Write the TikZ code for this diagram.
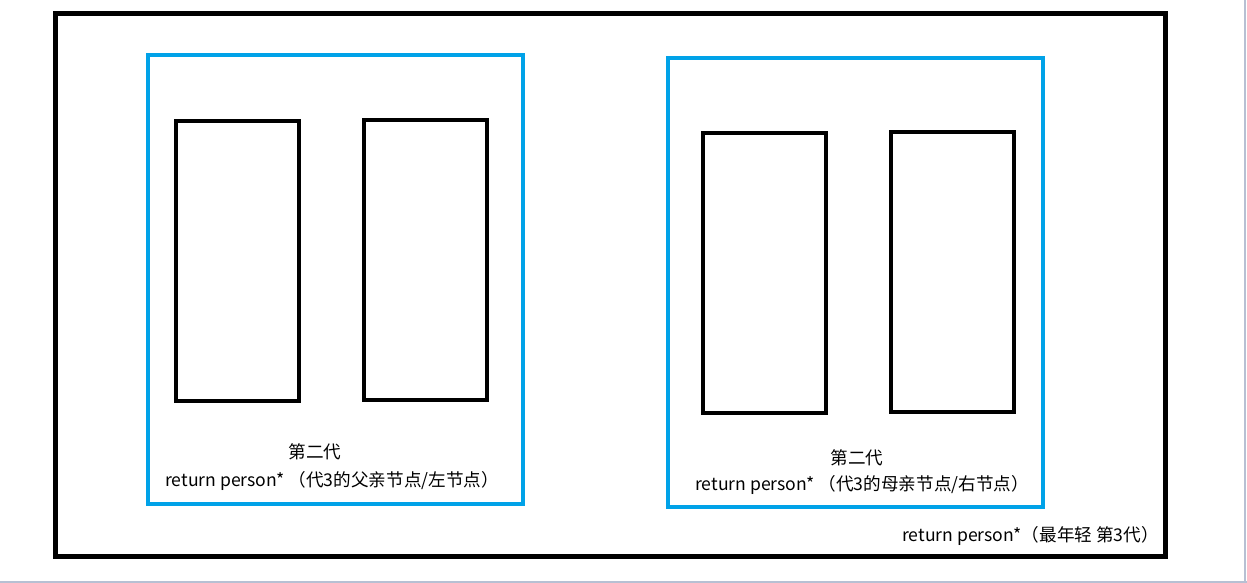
\documentclass[tikz,border=0pt]{standalone}
\usepackage{fontspec}
\setmainfont{Noto Sans CJK SC}
\begin{document}
\begin{tikzpicture}[x=1pt,y=-1pt,
  outerbox/.style={draw=black,line width=5pt},
  bluebox/.style={draw=paintblue,line width=4pt},
  innerbox/.style={draw=black,line width=4pt},
  lbl/.style={font=\fontsize{17.6}{20}\selectfont,inner sep=0pt,text=black},
  edgeline/.style={draw=framegray,line width=2pt}]
\definecolor{paintblue}{HTML}{00A2E8}
\definecolor{framegray}{HTML}{B7C0D3}
\useasboundingbox[fill=white] (0,0) rectangle (1247,583);
% outer frame
\draw[outerbox] (55.5,13.5) rectangle (1165.5,556.5);
% blue groups
\draw[bluebox] (148,55) rectangle (523,504);
\draw[bluebox] (668,58) rectangle (1043,507);
% inner rectangles
\draw[innerbox] (176,121) rectangle (299,401);
\draw[innerbox] (364,120) rectangle (487,400);
\draw[innerbox] (703,133) rectangle (826,413);
\draw[innerbox] (891,132) rectangle (1014,412);
% labels
\node[lbl] (g1) at (315,452) {第二代};
\node[lbl,anchor=west] (r1) at (165,481) {return person*\ （代3的父亲节点/左节点）};
\node[lbl] (g2) at (857,458) {第二代};
\node[lbl,anchor=west] (r2) at (695,485) {return person*\ （代3的母亲节点/右节点）};
\node[lbl,anchor=west] (r3) at (902,536) {return person*（最年轻 第3代）};
% canvas edges
\draw[edgeline] (1245,0) -- (1245,583);
\draw[edgeline] (0,582) -- (1247,582);
\end{tikzpicture}
\end{document}
